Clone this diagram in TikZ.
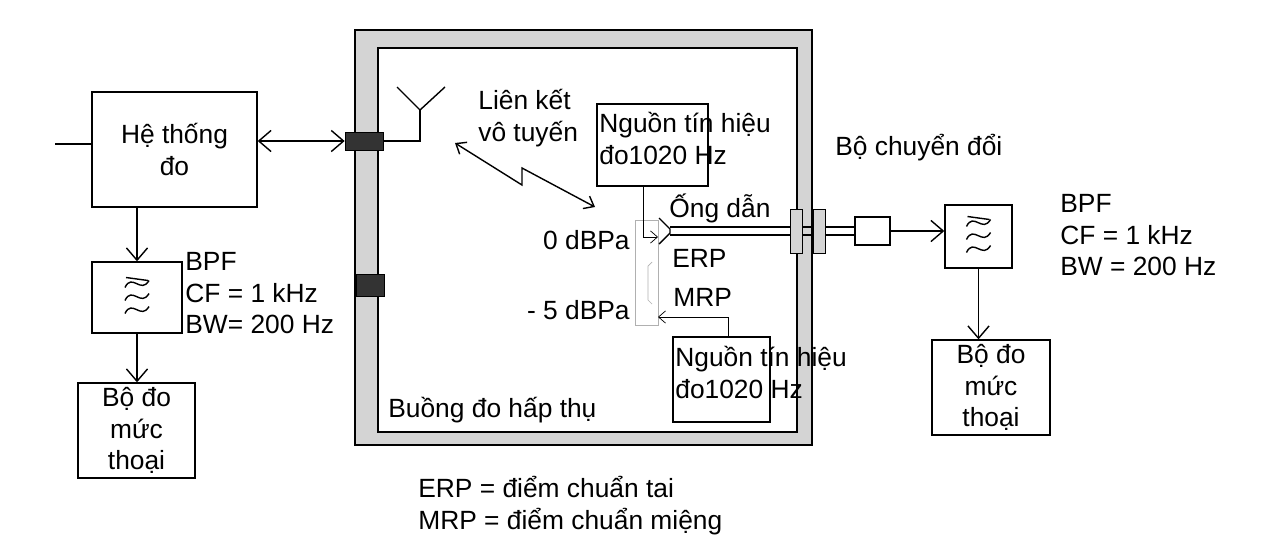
\documentclass[tikz,border=0pt]{standalone}
\usepackage{fontspec}
\setmainfont{Liberation Sans}
\usetikzlibrary{arrows.meta,positioning}
\definecolor{wallgray}{HTML}{D4D4D4}
\definecolor{plugdark}{HTML}{333333}
\definecolor{hatsgray}{HTML}{B0B0B0}

\begin{document}
\begin{tikzpicture}[x=0.02cm,y=-0.02cm,
  box/.style={draw, thick, inner sep=0pt, align=center, font=\fontsize{15}{18}\selectfont},
  lbl/.style={inner sep=0pt, align=left, font=\fontsize{15}{18}\selectfont},
  arr/.style={-{Straight Barb[length=7pt,width=12pt]}, thick},
  tinyarr/.style={-{Straight Barb[length=4pt,width=7pt]}, thin},
  pbpf/.pic={
    \foreach \dy in {-13,0,13}
      \draw[thick] (-12,\dy+3) .. controls (-5,\dy-12) and (4,\dy+10) .. (12,\dy-4);
    \draw[thick] (-11,-20) -- (11,-17);
  }
]
\useasboundingbox (0,0) rectangle (1280,552);

% anechoic chamber
\draw[thick, fill=wallgray] (355,30) rectangle (812,445);
\draw[thick, fill=white] (378,48) rectangle (797,432);
\node[lbl, anchor=west] (room) at (388,410) {Buồng đo hấp thụ};

% wall plugs
\node[draw, fill=plugdark, inner sep=0pt, minimum height=0.36cm, minimum width=0.76cm] (plugA) at (364,141) {};
\node[draw, fill=plugdark, inner sep=0pt, minimum height=0.44cm, minimum width=0.56cm] (plugB) at (370,285) {};

% antenna
\coordinate (ant) at (420,141);
\coordinate (fork) at (420,110);
\draw[thick] (plugA.east) -- (ant) -- (fork);
\draw[thick] (397,87) -- (fork) -- (445,87);

% measurement system
\node[box, minimum width=3.3cm, minimum height=2.3cm] (sys) at (174.5,149.5) {Hệ thống\\đo};
\coordinate (inp) at (55,144);
\draw[thick] (inp) -- (sys.west |- inp);
\draw[thick, {Straight Barb[length=7pt,width=12pt]}-{Straight Barb[length=7pt,width=12pt]}] (sys.east |- plugA) -- (plugA.west);

% left filter and meter
\node[box, minimum width=1.8cm, minimum height=1.42cm] (bpfL) at (137,297.5) {};
\pic at (bpfL.center) {pbpf};
\node[lbl, anchor=north west] (bpfLtxt) at (185,252) {BPF\\CF = 1 kHz\\BW= 200 Hz};
\node[box, minimum width=2.34cm, minimum height=1.9cm] (meterL) at (136.5,430.5) {Bộ đo\\mức\\thoại};
\draw[arr] (sys.south -| bpfL) -- (bpfL.north);
\draw[arr] (bpfL.south) -- (meterL.north -| bpfL);

% wireless link
\node[lbl, anchor=west] (link) at (478,118) {Liên kết\\vô tuyến};
\coordinate (zA) at (455,143);
\coordinate (zB) at (522,185);
\coordinate (zC) at (522,168);
\coordinate (zD) at (595,207);
\draw[thick, {Straight Barb[length=5pt,width=8pt]}-{Straight Barb[length=5pt,width=8pt]}] (zA) -- (zB) -- (zC) -- (zD);

% sources
\node[draw, thick, minimum width=2.22cm, minimum height=1.64cm] (srcA) at (652.5,145) {};
\node[lbl, anchor=north west] (srcAtxt) at (599,112) {Nguồn tín hiệu\\đo1020 Hz};
\node[draw, thick, minimum width=1.94cm, minimum height=1.7cm] (srcB) at (721.5,379.5) {};
\node[lbl, anchor=north west] (srcBtxt) at (675,346) {Nguồn tín hiệu\\đo1020 Hz};

% head and torso
\node[draw=hatsgray, thin, minimum width=0.46cm, minimum height=2.1cm, inner sep=0pt] (hats) at (646.5,272.5) {};
\draw[hatsgray, thin] (652,262) -- (648,266) -- (648,300) -- (652,304);
\coordinate (earup) at (643,187);
\coordinate (ear) at (658,237);
\coordinate (mouthup) at (728,337);
\coordinate (mouth) at (658,317);
\draw[thick] (659,218) -- (670,229) -- (670,233) -- (659,244);
\draw[tinyarr] (earup) |- (ear);
\draw[tinyarr] (mouthup) |- (mouth);

% tube and converter
\node[draw, thin, fill=wallgray, minimum width=0.24cm, minimum height=0.88cm, inner sep=0pt] (cplA) at (796,231) {};
\node[draw, thin, fill=wallgray, minimum width=0.24cm, minimum height=0.88cm, inner sep=0pt] (cplB) at (819,231) {};
\node[draw, thick, minimum width=0.7cm, minimum height=0.56cm, inner sep=0pt] (conv) at (872.5,231) {};
\foreach \ty in {227,235} {
  \draw[thick] (670,\ty) -- (790,\ty);
  \draw[thick] (802,\ty) -- (813,\ty);
  \draw[thick] (825,\ty) -- (855,\ty);
}
\node[lbl, anchor=west] (convtxt) at (835,148) {Bộ chuyển đổi};

% right filter and meter
\node[box, minimum width=1.34cm, minimum height=1.26cm] (bpfR) at (978.5,236.5) {};
\pic at (bpfR.center) {pbpf};
\node[lbl, anchor=north west] (bpfRtxt) at (1060,194) {BPF\\CF = 1 kHz\\BW = 200 Hz};
\node[box, minimum width=2.36cm, minimum height=1.9cm] (meterR) at (991,387.5) {Bộ đo\\mức\\thoại};
\draw[arr] (conv.east) -- (bpfR.west |- conv);
\draw[arr] (bpfR.south) -- (meterR.north -| bpfR);

% levels and points
\node[lbl, anchor=east] (lvlA) at (630,240) {0 dBPa};
\node[lbl, anchor=east] (lvlB) at (630,310) {- 5 dBPa};
\node[lbl, anchor=west] (tube) at (669,208) {Ống dẫn};
\node[lbl, anchor=west] (erp) at (672,258) {ERP};
\node[lbl, anchor=west] (mrp) at (673,297) {MRP};

% legend
\node[lbl, anchor=north west] (legend) at (418,476) {ERP = điểm chuẩn tai\\MRP = điểm chuẩn miệng};
\end{tikzpicture}
\end{document}
